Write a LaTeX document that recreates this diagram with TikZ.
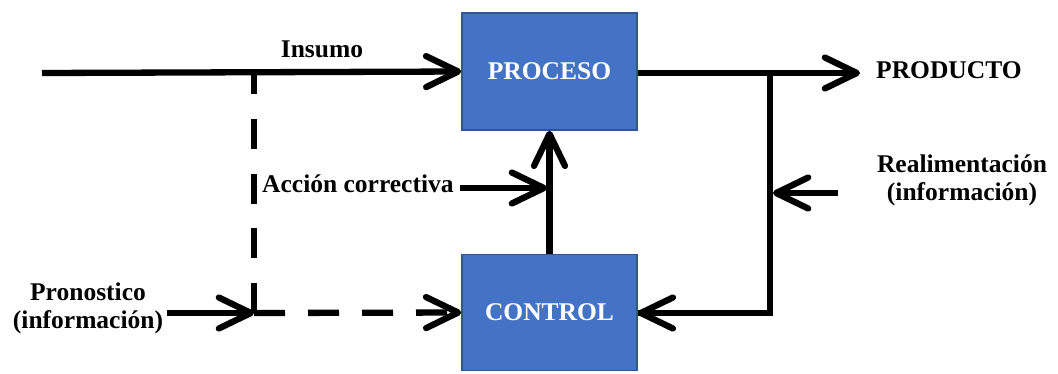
\documentclass[tikz,border=0pt]{standalone}
\usepackage{fontspec}
\setmainfont{Liberation Serif}
\usetikzlibrary{arrows.meta}
\definecolor{boxfill}{HTML}{4472C4}
\definecolor{boxline}{HTML}{2F5597}
\tikzset{
  block/.style={draw=boxline, line width=1.5pt, fill=boxfill, text=white,
    minimum width=175pt, minimum height=117pt, inner sep=0pt,
    font=\bfseries\fontsize{25.5}{28}\selectfont},
  label/.style={inner sep=0pt, align=center,
    font=\bfseries\fontsize{25.5}{28}\selectfont},
  flow/.style={line width=6.3pt,
    -{Straight Barb[length=32pt,width=31pt,line cap=round,line join=round]}},
  plain/.style={line width=6.3pt},
  dashflow/.style={flow, dash pattern=on 31pt off 23pt},
  dashline/.style={line width=6.3pt, dash pattern=on 30pt off 24.7pt}
}
\begin{document}
\begin{tikzpicture}[x=1pt,y=-1pt]
  \useasboundingbox (0,0) rectangle (1058,373);

  % blocks
  \node[block] (proc) at (549.5,71.5) {PROCESO};
  \node[block, minimum height=116pt] (ctrl) at (549.5,312.5) {CONTROL};

  % junctions and free ends
  \coordinate (in) at (42,73);
  \coordinate (split) at (254,73);
  \coordinate (fcst) at (167,313);
  \coordinate (merge) at (254,313);
  \coordinate (out) at (860,73);
  \coordinate (tap) at (770,73);
  \coordinate (corner) at (770,313);
  \coordinate (fbsrc) at (838,193);
  \coordinate (fbend) at (773,193);
  \coordinate (acsrc) at (460,188);
  \coordinate (acend) at (547,188);

  % main flow
  \draw[flow] (in) -- (proc.west);
  \draw[flow] (proc.east |- tap) -- (out);
  \draw[plain, line join=miter] (tap) -- (corner) -- (ctrl.east |- corner);
  \draw[flow] (corner) -- (ctrl.east |- corner);
  \draw[flow] (ctrl.north) -- (proc.south);

  % side inputs
  \draw[flow] (fbsrc) -- (fbend);
  \draw[flow] (acsrc) -- (acend);
  \draw[flow] (fcst) -- (merge);

  % forecast path
  \draw[dashline] (merge) -- (split);
  \draw[dashflow] (merge) -- (ctrl.west);

  % labels
  \node[label, anchor=base] (lin) at (322,57) {Insumo};
  \node[label, anchor=base west] (lac) at (262,192) {Acción correctiva};
  \node[label, anchor=base west] (lout) at (876,78) {PRODUCTO};
  \node[label, anchor=base] (lfb1) at (962,172) {Realimentación};
  \node[label, anchor=base] (lfb2) at (962,200) {(información)};
  \node[label, anchor=base] (lfc1) at (88,300) {Pronostico};
  \node[label, anchor=base] (lfc2) at (88,328) {(información)};
\end{tikzpicture}
\end{document}
